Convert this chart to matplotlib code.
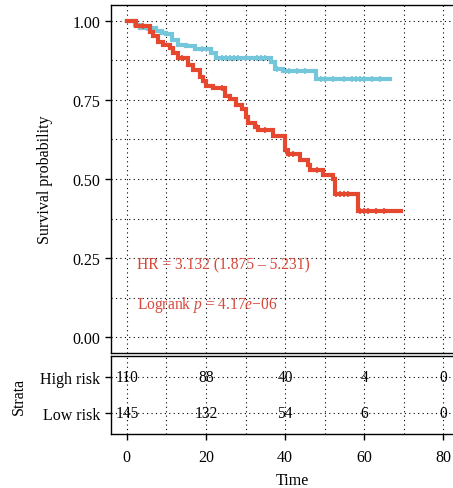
import numpy as np
import matplotlib
matplotlib.use('Agg')
import matplotlib.pyplot as plt
from matplotlib.ticker import MultipleLocator

plt.rcParams['font.family'] = 'Liberation Serif'
plt.rcParams['mathtext.fontset'] = 'custom'
plt.rcParams['mathtext.rm'] = 'Liberation Serif'
plt.rcParams['mathtext.it'] = 'Liberation Serif:italic'

# Kaplan-Meier steps (time, survival after the step)
low_times = [0, 2.0, 3.3, 7.5, 8.8, 10, 11.3, 13, 15, 17.2, 21.4, 22.6,
             36.5, 37.4, 39.5, 47.9, 66.4]
low_surv = [1.0, 0.986, 0.978, 0.968, 0.962, 0.957, 0.939, 0.925, 0.92, 0.912,
            0.897, 0.883, 0.87, 0.849, 0.84, 0.817, 0.817]
low_censor = [5, 19, 24, 25, 26, 27, 28, 30, 33, 34, 35, 38, 41, 43, 45, 49,
              50, 52, 55, 57, 58, 59, 60, 62, 64]

high_times = [0, 2.4, 5.8, 6.6, 7.9, 9.2, 10.9, 11.7, 13, 15.5, 16.8, 18.4,
              19.3, 20.1, 21.8, 24.7, 26, 27.7, 29, 30.2, 30.6, 32.3, 33.1,
              36.9, 39.9, 40.7, 43.7, 45.8, 46.2, 49.6, 52.1, 52.5, 58.4, 69.4]
high_surv = [1.0, 0.984, 0.965, 0.953, 0.934, 0.923, 0.915, 0.897, 0.883,
             0.86, 0.846, 0.823, 0.809, 0.794, 0.786, 0.763, 0.754, 0.735,
             0.722, 0.696, 0.678, 0.665, 0.654, 0.636, 0.591, 0.578, 0.559,
             0.543, 0.527, 0.511, 0.5, 0.453, 0.40, 0.40]
high_censor = [4, 14, 24, 33, 35, 41, 42, 48, 53, 54, 55, 56, 59, 60, 61, 63,
               65]

# numbers at risk
risk_times = [0, 20, 40, 60, 80]
strata = ['Low risk', 'High risk']
at_risk = {'High risk': [110, 88, 40, 4, 0],
           'Low risk': [145, 132, 54, 6, 0]}

hr_text = 'HR = 3.132 (1.875 \u2013 5.231)'
p_text = 'Logrank $p$ = 4.17$e$\u221206'

blue = '#74C6DA'
red = '#E5482E'
grid_kw = dict(color='black', linestyle=(0, (1, 3)), linewidth=0.8)
x_lim = (-4, 87.6)


def surv_at(times, surv, t):
    idx = np.searchsorted(times, t, side='right') - 1
    return np.array(surv)[idx]


fig = plt.figure(figsize=(4.53, 4.89), dpi=100)
ax = fig.add_axes([0.245, 0.2761, 0.80, 0.7117])
rt = fig.add_axes([0.245, 0.1104, 0.80, 0.1595])

for times, surv, cens, col in [(low_times, low_surv, low_censor, blue),
                               (high_times, high_surv, high_censor, red)]:
    ax.step(times, surv, where='post', color=col, lw=3.0, solid_joinstyle='miter')
    ax.plot(cens, surv_at(times, surv, cens), ls='none', marker='+',
            ms=5, mew=1.2, color=col)

ax.set_xlim(*x_lim)
ax.set_ylim(-0.05, 1.05)
ax.xaxis.set_major_locator(MultipleLocator(20))
ax.xaxis.set_minor_locator(MultipleLocator(10))
ax.yaxis.set_major_locator(MultipleLocator(0.25))
ax.yaxis.set_minor_locator(MultipleLocator(0.125))
ax.set_yticks([0, 0.25, 0.5, 0.75, 1.0])
ax.set_yticklabels(['0.00', '0.25', '0.50', '0.75', '1.00'])
ax.grid(True, which='both', **grid_kw)
ax.set_axisbelow(True)
ax.tick_params(axis='x', which='both', bottom=False, labelbottom=False)
ax.tick_params(axis='y', which='minor', left=False)
ax.tick_params(axis='y', which='major', length=4, width=1, labelsize=11.5)
ax.set_ylabel('Survival probability', fontsize=11.5, labelpad=14)

ax.text(2.5, 0.23, hr_text, color='#D8473A', fontsize=11.2, va='center')
ax.text(2.5, 0.105, p_text, color='#D8473A', fontsize=11.2, va='center')

# risk table
for i, name in enumerate(strata):
    for t, n in zip(risk_times, at_risk[name]):
        rt.text(t, i + 1, str(n), ha='center', va='center', fontsize=11.2)
rt.set_xlim(*x_lim)
rt.set_ylim(0.4, 2.6)
rt.set_yticks([1, 2])
rt.set_yticklabels(strata)
rt.xaxis.set_major_locator(MultipleLocator(20))
rt.xaxis.set_minor_locator(MultipleLocator(10))
rt.grid(True, which='both', **grid_kw)
rt.set_axisbelow(True)
rt.tick_params(axis='x', which='minor', bottom=False)
rt.tick_params(axis='both', which='major', length=4, width=1, labelsize=11.5)
rt.tick_params(axis='x', which='major', pad=7)
rt.set_ylabel('Strata', fontsize=11.5, labelpad=10)
rt.set_xlabel('Time', fontsize=11.5, labelpad=5)

for a in (ax, rt):
    for s in a.spines.values():
        s.set_linewidth(1.0)

fig.savefig('out.png', dpi=100)
